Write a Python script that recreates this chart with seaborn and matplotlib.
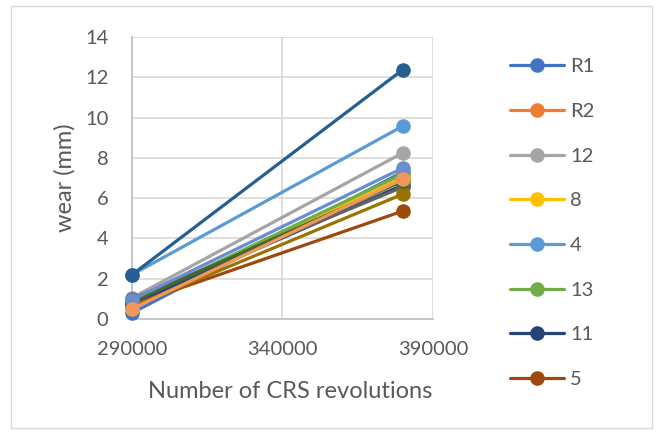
import matplotlib
matplotlib.use("Agg")
import matplotlib.pyplot as plt
import seaborn as sns
import pandas as pd
from matplotlib.lines import Line2D

# Wear measured at two revolution counts for each sample
revolutions = [290000, 380000]
series = ["R1", "R2", "12", "8", "4", "13", "11", "5",
          "R3", "7", "1", "2", "10", "3"]
wear_start = [0.30, 0.55, 1.05, 0.70, 2.20, 0.80, 0.75, 0.70,
              1.00, 0.60, 2.20, 0.85, 0.95, 0.50]
wear_end = [7.30, 7.00, 8.25, 7.05, 9.58, 7.20, 6.65, 5.36,
            6.55, 6.20, 12.38, 6.85, 7.50, 6.94]
colors = ["#4472C4", "#ED7D31", "#A5A5A5", "#FFC000", "#5B9BD5", "#70AD47",
          "#264478", "#9E480E", "#636363", "#997300", "#255E91", "#43682B",
          "#698ED0", "#F1975A"]
legend_count = 8

rows = []
for name, a, b in zip(series, wear_start, wear_end):
    rows.append({"series": name, "rev": revolutions[0], "wear": a})
    rows.append({"series": name, "rev": revolutions[1], "wear": b})
df = pd.DataFrame(rows)

sns.set_style("white")
plt.rcParams["font.family"] = ["Lato", "DejaVu Sans"]
text_color = "#595959"

W, H = 662, 434
fig = plt.figure(figsize=(W / 100, H / 100), dpi=100)
ax = fig.add_axes([132 / W, 1 - 319 / H, (433 - 132) / W, (319 - 37) / H])

sns.lineplot(data=df, x="rev", y="wear", hue="series", hue_order=series,
             palette=dict(zip(series, colors)), marker="o", markersize=10.5,
             markeredgewidth=0, linewidth=2.3, legend=False, ax=ax,
             zorder=3)

ax.set_xlim(290000, 390000)
ax.set_ylim(0, 14)
ax.set_xticks([290000, 340000, 390000])
ax.set_yticks(range(0, 15, 2))
ax.grid(True, color="#D9D9D9", linewidth=1.2, zorder=0)
ax.set_axisbelow(True)
for side in ["top", "right"]:
    ax.spines[side].set_visible(False)
for side in ["left", "bottom"]:
    ax.spines[side].set_color("#BFBFBF")
    ax.spines[side].set_linewidth(1.2)
ax.tick_params(axis="both", length=0, labelsize=14.5, colors=text_color)
ax.tick_params(axis="x", pad=15.5)
ax.tick_params(axis="y", pad=17)
for lab in ax.get_xticklabels() + ax.get_yticklabels():
    lab.set_color(text_color)
ax.set_xlabel("")
ax.set_ylabel("")

# axis titles placed in figure pixels
fig.text(290 / W, 1 - 391 / H, "Number of CRS revolutions", fontsize=17,
         color=text_color, ha="center", va="center")
fig.text(65 / W, 1 - 178 / H, "wear (mm)", fontsize=17, color=text_color,
         ha="center", va="center", rotation=90)

for line in ax.lines:
    line.set_clip_on(False)

handles = [Line2D([0], [0], color=c, marker="o", markersize=10.5,
                  markeredgewidth=0, linewidth=2.3)
           for c in colors[:legend_count]]
leg = fig.legend(handles, series[:legend_count], loc="upper left",
                 bbox_to_anchor=(492 / W, 1 - 40 / H), frameon=False,
                 fontsize=14.5, handlelength=2.68, labelspacing=1.37,
                 handletextpad=0.3, labelcolor=text_color)

# light chart-area border
fig.patches.append(plt.Rectangle((11 / W, 6 / H), 641 / W, 422 / H,
                                 transform=fig.transFigure, fill=False,
                                 edgecolor="#D9D9D9", linewidth=1.0))

fig.savefig("out.png", dpi=100)
